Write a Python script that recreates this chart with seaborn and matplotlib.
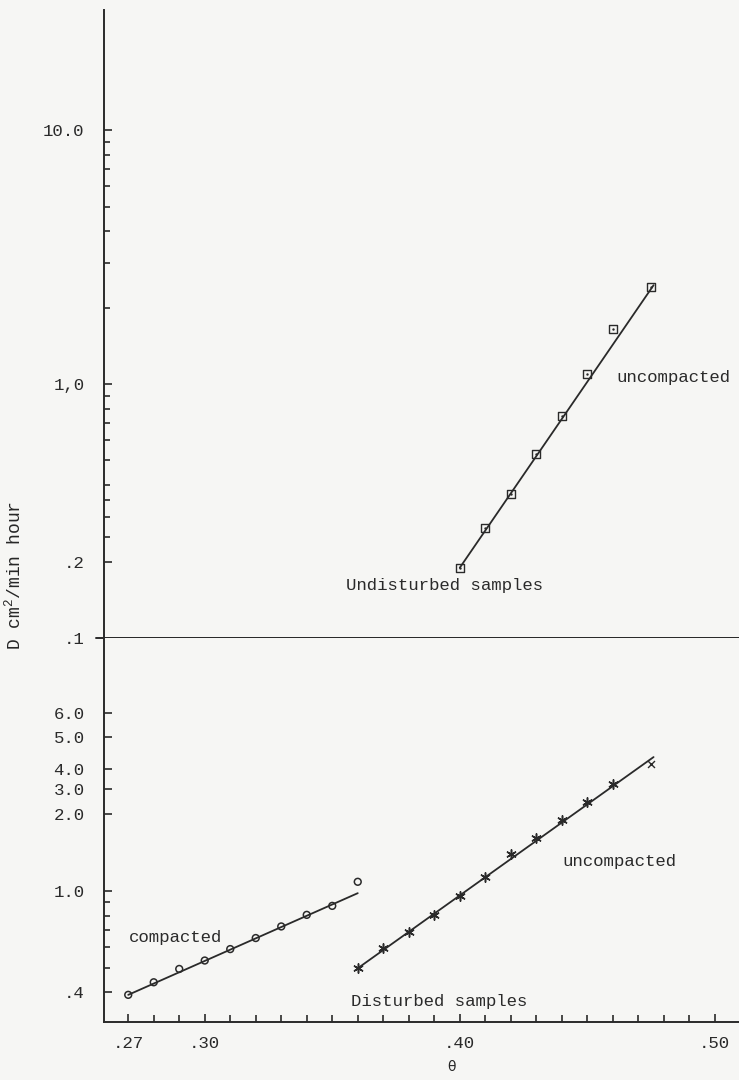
import numpy as np
import matplotlib.pyplot as plt
import seaborn as sns

# Undisturbed samples (upper panel)
theta_undist = [0.40, 0.41, 0.42, 0.43, 0.44, 0.45, 0.46, 0.475]
D_undist = [0.189, 0.271, 0.369, 0.530, 0.748, 1.095, 1.646, 2.41]
fit_undist_theta = [0.40, 0.476]
fit_undist_D = [0.189, 2.45]

# Disturbed samples (lower panel)
theta_comp = [0.27, 0.28, 0.29, 0.30, 0.31, 0.32, 0.33, 0.34, 0.35, 0.36]
D_comp = [0.391, 0.438, 0.494, 0.533, 0.591, 0.653, 0.725, 0.805, 0.873, 1.085]
fit_comp_theta = [0.27, 0.36]
fit_comp_D = [0.391, 0.979]

theta_uncomp = [0.36, 0.37, 0.38, 0.39, 0.40, 0.41, 0.42, 0.43, 0.44, 0.45, 0.46, 0.475]
D_uncomp = [0.497, 0.596, 0.692, 0.805, 0.958, 1.138, 1.393, 1.604, 1.887, 2.220, 2.620, 3.148]
fit_uncomp_theta = [0.36, 0.476]
fit_uncomp_D = [0.497, 3.345]

# Axis ticks and labels (as typed on the original)
x_major = [0.27, 0.30, 0.40, 0.50]
x_major_labels = [".27", ".30", ".40", ".50"]
x_minor = [0.28, 0.29, 0.31, 0.32, 0.33, 0.34, 0.35, 0.36, 0.37, 0.38, 0.39,
           0.41, 0.42, 0.43, 0.44, 0.45, 0.46, 0.47, 0.48, 0.49]
top_major = [10, 1, 0.2, 0.1]
top_major_labels = ["10.0", "1,0", ".2", ".1"]
top_minor = [9, 8, 7, 6, 5, 4, 3, 2, 0.9, 0.8, 0.7, 0.6, 0.5, 0.4, 0.35, 0.3, 0.25]
bot_major = [5, 4, 3, 2.5, 2, 1, 0.4]
bot_major_labels = ["6.0", "5.0", "4.0", "3.0", "2.0", "1.0", ".4"]
bot_minor = [0.9, 0.8, 0.7, 0.6, 0.5]

ink = "#2a2a2a"
paper = "#f6f6f4"

sns.set_style("white")
plt.rcParams["font.family"] = ["Liberation Mono", "DejaVu Sans"]
plt.rcParams["mathtext.default"] = "regular"
plt.rcParams["text.color"] = ink
plt.rcParams["axes.edgecolor"] = ink
plt.rcParams["xtick.color"] = ink
plt.rcParams["ytick.color"] = ink
plt.rcParams["xtick.direction"] = "in"
plt.rcParams["ytick.direction"] = "in"

fig = plt.figure(figsize=(7.39, 10.8), dpi=100, facecolor=paper)
W, H = 739, 1080
left = 104 / W
ax_top = fig.add_axes([left, 1 - 638 / H, 1 - left, 628 / H], facecolor=paper)
ax_bot = fig.add_axes([left, 1 - 1022 / H, 1 - left, 384 / H], facecolor=paper, sharex=ax_top)

# upper panel
sns.lineplot(x=fit_undist_theta, y=fit_undist_D, ax=ax_top, color=ink, lw=1.3)
sns.scatterplot(x=theta_undist, y=D_undist, ax=ax_top, marker="s", s=32,
                facecolor="none", edgecolor=ink, linewidth=1.0, zorder=3)
sns.scatterplot(x=theta_undist, y=D_undist, ax=ax_top, marker="o", s=3,
                color=ink, linewidth=0, zorder=4)

# lower panel
sns.lineplot(x=fit_comp_theta, y=fit_comp_D, ax=ax_bot, color=ink, lw=1.3)
sns.scatterplot(x=theta_comp, y=D_comp, ax=ax_bot, marker="o", s=24,
                facecolor="none", edgecolor=ink, linewidth=1.1, zorder=3)
sns.lineplot(x=fit_uncomp_theta, y=fit_uncomp_D, ax=ax_bot, color=ink, lw=1.3)
sns.scatterplot(x=theta_uncomp[:-1], y=D_uncomp[:-1], ax=ax_bot, marker=(6, 2, 0), s=45,
                color=ink, linewidth=1.1, zorder=3)
sns.scatterplot(x=theta_uncomp[-1:], y=D_uncomp[-1:], ax=ax_bot, marker="x", s=25,
                color=ink, linewidth=1.0, zorder=3)

for ax in (ax_top, ax_bot):
    ax.set_yscale("log")
    ax.spines["top"].set_visible(False)
    ax.spines["right"].set_visible(False)
    ax.spines["left"].set_linewidth(1.4)
    ax.spines["bottom"].set_linewidth(1.4)

ax_top.set_xlim(0.2605, 0.5095)
ax_top.set_ylim(0.1, 29.7)
ax_bot.set_ylim(0.306, 9.8)

ax_top.set_yticks(top_major)
ax_top.set_yticklabels(top_major_labels)
ax_top.set_yticks(top_minor, minor=True)
ax_top.yaxis.set_minor_formatter(plt.NullFormatter())
ax_top.tick_params(axis="x", which="both", bottom=False, labelbottom=False)
ax_top.axhline(0.1, xmin=-0.013, xmax=1, color=ink, lw=1.4, clip_on=False)

ax_bot.set_yticks(bot_major)
ax_bot.set_yticklabels(bot_major_labels)
ax_bot.set_yticks(bot_minor, minor=True)
ax_bot.yaxis.set_minor_formatter(plt.NullFormatter())

for ax in (ax_top, ax_bot):
    ax.tick_params(axis="y", which="both", direction="in", left=True, right=False,
                   labelsize=12.5, pad=14)
    ax.tick_params(axis="y", which="major", length=6, width=1.2)
    ax.tick_params(axis="y", which="minor", length=4.5, width=1.2)

ax_bot.set_xticks(x_major)
ax_bot.set_xticklabels(x_major_labels)
ax_bot.set_xticks(x_minor, minor=True)
ax_bot.tick_params(axis="x", which="both", direction="in", bottom=True, labelsize=12.5, pad=10)
ax_bot.tick_params(axis="x", which="major", length=6, width=1.2)
ax_bot.tick_params(axis="x", which="minor", length=5, width=1.2)

ax_top.set_xlabel("")
ax_top.set_ylabel("D cm$^2$/min hour", fontsize=13)
ax_top.yaxis.set_label_coords(-0.125, 0.1)
ax_bot.set_xlabel("θ", fontsize=10, family="DejaVu Sans")
ax_bot.xaxis.set_label_coords(0.548, -0.10)
ax_bot.set_ylabel("")

ax_top.text(0.4836, 1.065, "uncompacted", fontsize=12.5, ha="center", va="center")
ax_top.text(0.3942, 0.161, "Undisturbed samples", fontsize=12.5, ha="center", va="center")
ax_bot.text(0.4628, 1.30, "uncompacted", fontsize=12.5, ha="center", va="center")
ax_bot.text(0.2884, 0.654, "compacted", fontsize=12.5, ha="center", va="center")
ax_bot.text(0.3918, 0.367, "Disturbed samples", fontsize=12.5, ha="center", va="center")

fig.savefig("out.png", dpi=100, facecolor=paper)
